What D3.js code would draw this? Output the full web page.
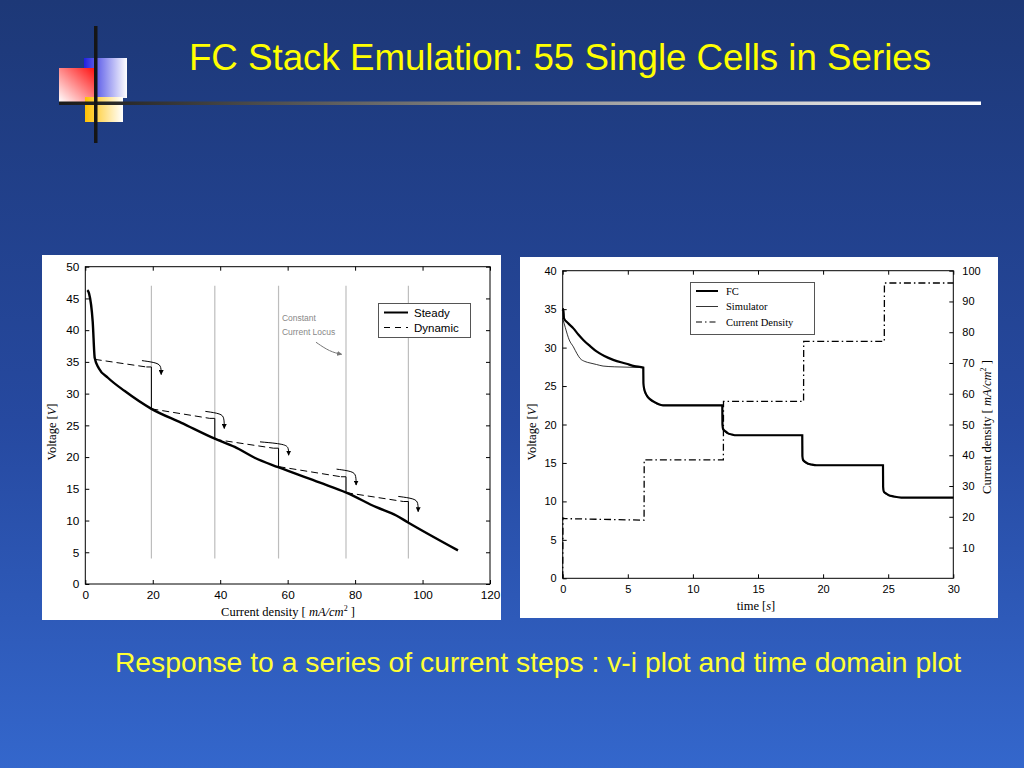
<!DOCTYPE html>
<html><head><meta charset="utf-8">
<script src="https://cdn.jsdelivr.net/npm/d3@7/dist/d3.min.js"></script>
<style>html,body{margin:0;padding:0;background:#1e3a78;}svg{display:block;}</style>
</head><body>
<svg id="c" width="1024" height="768"></svg>
<script>
// ---------- text ----------
const titleText = "FC Stack Emulation: 55 Single Cells in Series";
const subtitleText = "Response to a series of current steps : v-i plot and time domain plot";

// ---------- left chart (v-i) data ----------
const viXTicks = [0, 20, 40, 60, 80, 100, 120];
const viYTicks = [0, 5, 10, 15, 20, 25, 30, 35, 40, 45, 50];
const steadyI = [0.6, 1.1, 2.2, 2.8, 4.0, 6.7, 11.7, 19.6, 28.5, 38.4, 44.3, 50.2, 57.2, 69.4, 77.4, 86.3, 92.2, 95.7, 110.5];
const steadyV = [46.3, 45.8, 41.3, 35.6, 34.0, 32.5, 30.4, 27.6, 25.4, 22.9, 21.6, 19.9, 18.4, 16.0, 14.4, 12.1, 10.8, 9.7, 5.3];
const stepI = [2.8, 19.6, 38.4, 57.3, 77.3, 95.8];
const stepV = [35.4, 27.6, 22.8, 18.5, 14.4, 9.7];
const dynEndV = [34.2, 26.1, 21.4, 16.9, 13.0];
const arrowStartI = [16.8, 35.6, 51.8, 74.5, 92.8];
const arrowStartV = [35.2, 27.2, 22.4, 18.1, 13.8];
const arrowTipI = [22.5, 41.2, 60.3, 80.3, 98.7];
const arrowTipV = [33.0, 24.5, 20.3, 15.6, 11.4];
const locusRange = [4, 47];
const locusNoteI = 58.3, locusNoteV = [41.4, 39.2];
const locusArrowI = [68.4, 72.5, 76.0], locusArrowV = [38.1, 36.6, 36.2];

// ---------- right chart (time domain) data ----------
const tdXTicks = [0, 5, 10, 15, 20, 25, 30];
const tdVTicks = [0, 5, 10, 15, 20, 25, 30, 35, 40];
const tdITicks = [10, 20, 30, 40, 50, 60, 70, 80, 90, 100];
const fcT = [0, 0.05, 0.1, 0.4, 0.82, 1.2, 1.58, 2.1, 2.6, 3.2, 3.88, 4.9, 5.5, 6.19,
  6.2, 6.25, 6.45, 6.7, 6.96, 7.3, 7.7, 12.26,
  12.27, 12.32, 12.5, 12.7, 13.0, 13.3, 18.4,
  18.41, 18.46, 18.65, 18.85, 19.1, 19.5, 24.6,
  24.61, 24.66, 24.85, 25.05, 25.4, 26.0, 30];
const fcV = [34.8, 35.0, 33.8, 33.2, 32.5, 31.7, 31.0, 30.2, 29.5, 28.9, 28.4, 27.9, 27.6, 27.4,
  25.4, 24.7, 23.8, 23.3, 23.0, 22.7, 22.5, 22.5,
  20.0, 19.4, 19.1, 18.85, 18.7, 18.6, 18.6,
  15.9, 15.4, 15.1, 14.9, 14.8, 14.7, 14.7,
  11.9, 11.3, 11.0, 10.8, 10.65, 10.5, 10.5];
const simT = [0, 0.2, 0.5, 0.82, 1.1, 1.33, 1.7, 2.1, 2.6, 3.1, 4.0, 6.19,
  6.2, 6.25, 6.45, 6.7, 6.96, 7.3, 7.7, 12.26,
  12.27, 12.32, 12.5, 12.7, 13.0, 13.3, 18.4,
  18.41, 18.46, 18.65, 18.85, 19.1, 19.5, 24.6,
  24.61, 24.66, 24.85, 25.05, 25.4, 26.0, 30];
const simV = [33.8, 32.6, 31.0, 30.1, 29.2, 28.6, 28.2, 28.0, 27.8, 27.6, 27.5, 27.4,
  25.2, 24.5, 23.7, 23.2, 22.9, 22.6, 22.5, 22.5,
  19.8, 19.3, 19.0, 18.8, 18.65, 18.6, 18.6,
  15.8, 15.3, 15.0, 14.85, 14.75, 14.7, 14.7,
  11.8, 11.2, 10.95, 10.75, 10.6, 10.5, 10.5];
const curT = [0, 0.02, 0.15, 6.25, 6.26, 12.34, 12.35, 18.5, 18.51, 24.7, 24.71, 30];
const curI = [0, 19.6, 19.4, 18.9, 38.5, 38.5, 57.5, 57.5, 77.0, 77.0, 96.0, 96.0];
const legendNames = ["FC", "Simulator", "Current Density"];

// ---------- drawing ----------
const svg = d3.select("#c");
const defs = svg.append("defs");
const bg = defs.append("linearGradient").attr("id", "bg").attr("x1", 0).attr("y1", 0).attr("x2", 0).attr("y2", 1);
bg.append("stop").attr("offset", "0%").attr("stop-color", "#1d3877");
bg.append("stop").attr("offset", "55%").attr("stop-color", "#2649a0");
bg.append("stop").attr("offset", "100%").attr("stop-color", "#3467cc");
svg.append("rect").attr("width", 1024).attr("height", 768).attr("fill", "url(#bg)");

function grad(id, c1, c2, x2, y2) {
  const g = defs.append("linearGradient").attr("id", id).attr("x1", 0).attr("y1", 0).attr("x2", x2).attr("y2", y2);
  g.append("stop").attr("offset", "0%").attr("stop-color", c1);
  g.append("stop").attr("offset", "100%").attr("stop-color", c2);
}
grad("gRed", "#ffffff", "#ff1010", 1, 0);
defs.select("#gRed").attr("x1", 0).attr("y1", 1).attr("x2", 1).attr("y2", 0);
grad("gBlue", "#2020e0", "#ffffff", 1, 0);
grad("gYel", "#ffc000", "#ffffff", 1, 0);
grad("gLine", "#1a1a1a", "#ffffff", 1, 0);

// logo
svg.append("rect").attr("x", 84).attr("y", 58).attr("width", 43).attr("height", 40).attr("fill", "url(#gBlue)");
svg.append("rect").attr("x", 59).attr("y", 68).attr("width", 36).attr("height", 34).attr("fill", "url(#gRed)");
svg.append("rect").attr("x", 85).attr("y", 97).attr("width", 38).attr("height", 25).attr("fill", "url(#gYel)");
svg.append("rect").attr("x", 59).attr("y", 101.5).attr("width", 922).attr("height", 3.5).attr("fill", "url(#gLine)");
svg.append("rect").attr("x", 94).attr("y", 26).attr("width", 3.5).attr("height", 117).attr("fill", "#151515");

svg.append("text").attr("x", 560).attr("y", 70).attr("text-anchor", "middle")
  .attr("font-family", "Liberation Sans, Arial, sans-serif").attr("font-size", 36.7).attr("fill", "#ffff00").text(titleText);
svg.append("text").attr("x", 538).attr("y", 672).attr("text-anchor", "middle")
  .attr("font-family", "Liberation Sans, Arial, sans-serif").attr("font-size", 28.3).attr("fill", "#ffff33").text(subtitleText);

// arrow marker
defs.append("marker").attr("id", "arr").attr("viewBox", "0 0 10 10").attr("refX", 9).attr("refY", 5)
  .attr("markerWidth", 5).attr("markerHeight", 5).attr("orient", "auto")
  .append("path").attr("d", "M0,0L10,5L0,10z").attr("fill", "#000");
defs.append("marker").attr("id", "arrG").attr("viewBox", "0 0 10 10").attr("refX", 9).attr("refY", 5)
  .attr("markerWidth", 5).attr("markerHeight", 5).attr("orient", "auto")
  .append("path").attr("d", "M0,0L10,5L0,10z").attr("fill", "#777");

const sans = "Liberation Sans, Arial, sans-serif";
const serif = "Liberation Serif, Times New Roman, serif";

// ===== LEFT CHART =====
svg.append("rect").attr("x", 42).attr("y", 255).attr("width", 459).attr("height", 365).attr("fill", "#fff");
const lx = d3.scaleLinear().domain([0, 120]).range([85.3, 490]);
const ly = d3.scaleLinear().domain([0, 50]).range([584, 266.7]);
const L = svg.append("g");

// locus lines
L.selectAll("line.loc").data(stepI.slice(1)).join("line")
  .attr("x1", d => lx(d)).attr("x2", d => lx(d))
  .attr("y1", ly(locusRange[0])).attr("y2", ly(locusRange[1]))
  .attr("stroke", "#bdbdbd").attr("stroke-width", 1.2);

// axes (box)
function boxAxes(g, x, y, xt, yt, fs) {
  const [x0, x1] = x.range(), [y0, y1] = y.range();
  g.append("rect").attr("x", x0).attr("y", y1).attr("width", x1 - x0).attr("height", y0 - y1)
    .attr("fill", "none").attr("stroke", "#000").attr("stroke-width", 1);
  const bx = d3.axisBottom(x).tickValues(xt).tickSize(-4).tickPadding(7).tickFormat(d3.format("d"));
  const tx = d3.axisTop(x).tickValues(xt).tickSize(-4).tickFormat("");
  const ax1 = g.append("g").attr("transform", `translate(0,${y0})`).call(bx);
  const ax2 = g.append("g").attr("transform", `translate(0,${y1})`).call(tx);
  const lyA = d3.axisLeft(y).tickValues(yt).tickSize(-4).tickPadding(6).tickFormat(d3.format("d"));
  const ax3 = g.append("g").attr("transform", `translate(${x0},0)`).call(lyA);
  [ax1, ax2, ax3].forEach(a => {
    a.select(".domain").remove();
    a.selectAll("text").attr("font-family", sans).attr("font-size", fs).attr("fill", "#000");
  });
}
boxAxes(L, lx, ly, viXTicks, viYTicks, 11.8);
const lr = L.append("g").attr("transform", `translate(${lx.range()[1]},0)`)
  .call(d3.axisRight(ly).tickValues(viYTicks).tickSize(-4).tickFormat(""));
lr.select(".domain").remove();

// steady curve
const steady = steadyI.map((d, i) => [d, steadyV[i]]);
L.append("path").datum(steady)
  .attr("d", d3.line().x(d => lx(d[0])).y(d => ly(d[1])).curve(d3.curveMonotoneX))
  .attr("fill", "none").attr("stroke", "#000").attr("stroke-width", 2.4);

// dynamic paths
dynEndV.forEach((v, k) => {
  const pts = [[stepI[k], stepV[k]], [stepI[k + 1] - 1.5, v]];
  L.append("path").datum(pts)
    .attr("d", d3.line().x(d => lx(d[0])).y(d => ly(d[1])))
    .attr("fill", "none").attr("stroke", "#000").attr("stroke-width", 1).attr("stroke-dasharray", "7,4");
  const hook = [[stepI[k + 1] - 1.5, v], [stepI[k + 1], v], [stepI[k + 1], stepV[k + 1]]];
  L.append("path").datum(hook)
    .attr("d", d3.line().x(d => lx(d[0])).y(d => ly(d[1])))
    .attr("fill", "none").attr("stroke", "#000").attr("stroke-width", 1);
  const a = [[arrowStartI[k], arrowStartV[k]], [arrowTipI[k] - 0.9, arrowStartV[k] - 0.35],
             [arrowTipI[k], arrowStartV[k] - 1.0], [arrowTipI[k], arrowTipV[k]]];
  L.append("path").datum(a)
    .attr("d", d3.line().x(d => lx(d[0])).y(d => ly(d[1])).curve(d3.curveBasis))
    .attr("fill", "none").attr("stroke", "#000").attr("stroke-width", 1).attr("marker-end", "url(#arr)");
});

// locus note
L.selectAll("text.note").data(["Constant", "Current Locus"]).join("text")
  .attr("x", lx(locusNoteI)).attr("y", (d, i) => ly(locusNoteV[i]))
  .attr("font-family", sans).attr("font-size", 8.5).attr("fill", "#888").text(d => d);
L.append("path").datum(locusArrowI.map((d, i) => [d, locusArrowV[i]]))
  .attr("d", d3.line().x(d => lx(d[0])).y(d => ly(d[1])).curve(d3.curveBasis))
  .attr("fill", "none").attr("stroke", "#777").attr("stroke-width", 1).attr("marker-end", "url(#arrG)");

// legend left
const lg = L.append("g");
lg.append("rect").attr("x", 378.5).attr("y", 303.5).attr("width", 92).attr("height", 34)
  .attr("fill", "#fff").attr("stroke", "#555").attr("stroke-width", 1);
lg.append("line").attr("x1", 384).attr("x2", 408).attr("y1", 312.5).attr("y2", 312.5).attr("stroke", "#000").attr("stroke-width", 2);
lg.append("line").attr("x1", 384).attr("x2", 408).attr("y1", 327.5).attr("y2", 327.5).attr("stroke", "#000").attr("stroke-width", 1.2).attr("stroke-dasharray", "6,5");
lg.selectAll("text").data(["Steady", "Dynamic"]).join("text")
  .attr("x", 414).attr("y", (d, i) => 316.5 + i * 15).attr("font-family", sans).attr("font-size", 11.5).text(d => d);

// labels left
L.append("text").attr("transform", "translate(56,432) rotate(-90)").attr("text-anchor", "middle")
  .attr("font-family", serif).attr("font-size", 12.5)
  .call(t => { t.append("tspan").text("Voltage ["); t.append("tspan").attr("font-style", "italic").text("V"); t.append("tspan").text("]"); });
L.append("text").attr("x", 288).attr("y", 616).attr("text-anchor", "middle")
  .attr("font-family", serif).attr("font-size", 12.5)
  .call(t => { t.append("tspan").text("Current density [ "); t.append("tspan").attr("font-style", "italic").text("mA/cm");
    t.append("tspan").attr("font-size", 8).attr("dy", -5).text("2"); t.append("tspan").attr("dy", 5).text(" ]"); });

// ===== RIGHT CHART =====
svg.append("rect").attr("x", 520).attr("y", 257).attr("width", 478).attr("height", 361).attr("fill", "#fff");
const rx = d3.scaleLinear().domain([0, 30]).range([562.7, 953.3]);
const rv = d3.scaleLinear().domain([0, 40]).range([578.3, 270.7]);
const ri = d3.scaleLinear().domain([0, 100]).range([578.3, 270.7]);
const R = svg.append("g");
boxAxes(R, rx, rv, tdXTicks, tdVTicks, 11);
const rr = R.append("g").attr("transform", `translate(${rx.range()[1]},0)`)
  .call(d3.axisRight(ri).tickValues(tdITicks).tickSize(-4).tickPadding(9).tickFormat(d3.format("d")));
rr.select(".domain").remove();
rr.selectAll("text").attr("font-family", sans).attr("font-size", 11).attr("fill", "#000");

R.append("path").datum(curT.map((d, i) => [d, curI[i]]))
  .attr("d", d3.line().x(d => rx(d[0])).y(d => ri(d[1])))
  .attr("fill", "none").attr("stroke", "#000").attr("stroke-width", 1.3).attr("stroke-dasharray", "7,3,1.5,3");
R.append("path").datum(simT.map((d, i) => [d, simV[i]]))
  .attr("d", d3.line().x(d => rx(d[0])).y(d => rv(d[1])).curve(d3.curveMonotoneX))
  .attr("fill", "none").attr("stroke", "#000").attr("stroke-width", 0.8);
R.append("path").datum(fcT.map((d, i) => [d, fcV[i]]))
  .attr("d", d3.line().x(d => rx(d[0])).y(d => rv(d[1])).curve(d3.curveMonotoneX))
  .attr("fill", "none").attr("stroke", "#000").attr("stroke-width", 2.2);

// legend right
const rg = R.append("g");
rg.append("rect").attr("x", 690.5).attr("y", 282.5).attr("width", 124).attr("height", 52)
  .attr("fill", "#fff").attr("stroke", "#555").attr("stroke-width", 1);
const sw = [2, 0.8, 1.2], sd = [null, null, "6,3,1.5,3"];
legendNames.forEach((n, i) => {
  const yy = 291 + i * 15.5;
  rg.append("line").attr("x1", 696).attr("x2", 718).attr("y1", yy).attr("y2", yy)
    .attr("stroke", "#000").attr("stroke-width", sw[i]).attr("stroke-dasharray", sd[i]);
  rg.append("text").attr("x", 726).attr("y", yy + 3.5).attr("font-family", serif).attr("font-size", 10.5).text(n);
});

// labels right
R.append("text").attr("transform", "translate(536,432) rotate(-90)").attr("text-anchor", "middle")
  .attr("font-family", serif).attr("font-size", 12.5)
  .call(t => { t.append("tspan").text("Voltage ["); t.append("tspan").attr("font-style", "italic").text("V"); t.append("tspan").text("]"); });
R.append("text").attr("x", 756).attr("y", 610).attr("text-anchor", "middle")
  .attr("font-family", serif).attr("font-size", 12.5)
  .call(t => { t.append("tspan").text("time ["); t.append("tspan").attr("font-style", "italic").text("s"); t.append("tspan").text("]"); });
R.append("text").attr("transform", "translate(991,427) rotate(-90)").attr("text-anchor", "middle")
  .attr("font-family", serif).attr("font-size", 12.5)
  .call(t => { t.append("tspan").text("Current density [ "); t.append("tspan").attr("font-style", "italic").text("mA/cm");
    t.append("tspan").attr("font-size", 8).attr("dy", -5).text("2"); t.append("tspan").attr("dy", 5).text(" ]"); });
</script>
</body></html>
